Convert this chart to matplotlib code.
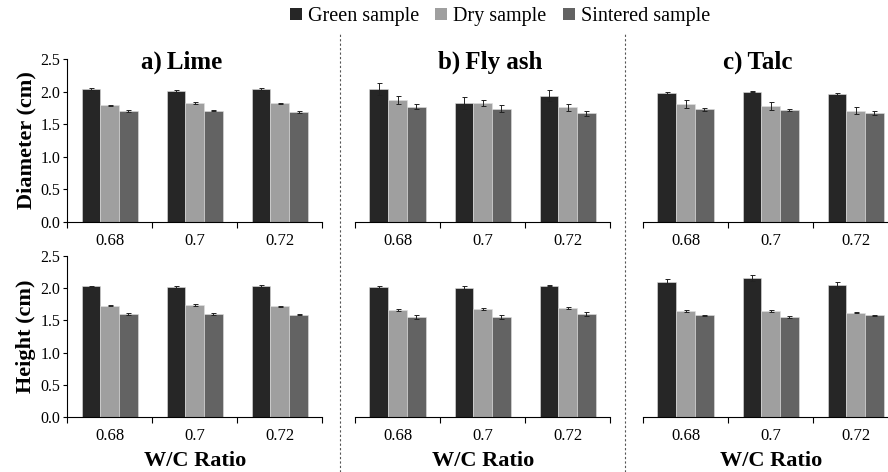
import numpy as np
import matplotlib.pyplot as plt
from matplotlib.lines import Line2D
from matplotlib.patches import Patch

plt.rcParams['font.family'] = ['Liberation Serif', 'DejaVu Serif']

# W/C ratios and sample stages
ratios = ['0.68', '0.7', '0.72']
samples = ['Green sample', 'Dry sample', 'Sintered sample']
colors = ['#262626', '#9f9f9f', '#636363']
titles = ['a)\u2009Lime', 'b)\u2009Fly ash', 'c)\u2009Talc']
title_x = [182 / 888, 490 / 888, 758 / 888]

# diameter (cm), rows = green / dry / sintered, cols = W/C ratio
dia_lime = [[2.04, 2.01, 2.04], [1.79, 1.82, 1.82], [1.70, 1.71, 1.69]]
dia_lime_err = [[0.01, 0.01, 0.01], [0.01, 0.015, 0.01], [0.02, 0.01, 0.02]]
dia_fly = [[2.04, 1.83, 1.94], [1.87, 1.83, 1.76], [1.77, 1.74, 1.67]]
dia_fly_err = [[0.09, 0.09, 0.085], [0.06, 0.045, 0.05], [0.04, 0.05, 0.04]]
dia_talc = [[1.98, 2.00, 1.96], [1.81, 1.78, 1.71], [1.73, 1.72, 1.67]]
dia_talc_err = [[0.015, 0.008, 0.012], [0.055, 0.06, 0.05], [0.02, 0.02, 0.025]]

# height (cm)
hgt_lime = [[2.03, 2.02, 2.03], [1.73, 1.74, 1.72], [1.60, 1.60, 1.59]]
hgt_lime_err = [[0.01, 0.01, 0.015], [0.01, 0.01, 0.01], [0.01, 0.01, 0.01]]
hgt_fly = [[2.02, 2.01, 2.04], [1.66, 1.68, 1.69], [1.55, 1.56, 1.60]]
hgt_fly_err = [[0.02, 0.02, 0.01], [0.02, 0.02, 0.02], [0.03, 0.03, 0.03]]
hgt_talc = [[2.10, 2.16, 2.05], [1.65, 1.64, 1.62], [1.58, 1.56, 1.58]]
hgt_talc_err = [[0.04, 0.04, 0.04], [0.015, 0.015, 0.01], [0.01, 0.015, 0.01]]

top_data = [(dia_lime, dia_lime_err), (dia_fly, dia_fly_err), (dia_talc, dia_talc_err)]
bot_data = [(hgt_lime, hgt_lime_err), (hgt_fly, hgt_fly_err), (hgt_talc, hgt_talc_err)]

fig = plt.figure(figsize=(8.88, 4.72), dpi=100)

lefts = [0.0755, 0.3998, 0.7241]
w = 0.2875
row_pos = [(0.5297, 0.3453), (0.1165, 0.341)]


def draw(ax, vals, errs, first, bottom_row):
    x = np.arange(len(ratios))
    bw = 0.22
    for i in range(3):
        ax.bar(x + (i - 1) * bw, vals[i], bw, color=colors[i], edgecolor='#e0e0e0',
               linewidth=0.4, yerr=errs[i], capsize=1.8,
               error_kw=dict(elinewidth=0.7, capthick=0.7, ecolor='#222222'))
    ax.set_xlim(-0.5, 2.5)
    ax.set_ylim(0, 2.5)
    ax.set_xticks(np.arange(-0.5, 3.0, 1.0))
    ax.set_xticklabels([])
    ax.set_xticks(x, minor=True)
    ax.set_xticklabels(ratios, minor=True, fontsize=12)
    ax.tick_params(axis='x', which='minor', length=0, pad=8)
    ax.tick_params(axis='x', which='major', length=4, direction='out', width=0.8)
    for s in ['top', 'right']:
        ax.spines[s].set_visible(False)
    ax.spines['bottom'].set_linewidth(0.8)
    if first:
        ax.set_yticks(np.arange(0, 2.51, 0.5))
        ax.set_yticklabels(['%.1f' % v for v in np.arange(0, 2.51, 0.5)], fontsize=11.5)
        ax.tick_params(axis='y', length=3, width=0.8, pad=2)
        ax.spines['left'].set_linewidth(0.8)
    else:
        ax.spines['left'].set_visible(False)
        ax.set_yticks([])
    if bottom_row:
        ax.set_xlabel('W/C Ratio', fontsize=16, fontweight='bold', labelpad=5)


for k in range(3):
    ax = fig.add_axes([lefts[k], row_pos[0][0], w, row_pos[0][1]])
    draw(ax, top_data[k][0], top_data[k][1], k == 0, False)
    fig.text(title_x[k], 1 - 62 / 472, titles[k], ha='center', va='center',
             fontsize=18, fontweight='bold')
    if k == 0:
        ax.set_ylabel('Diameter (cm)', fontsize=16, fontweight='bold', labelpad=3)

    ax = fig.add_axes([lefts[k], row_pos[1][0], w, row_pos[1][1]])
    draw(ax, bot_data[k][0], bot_data[k][1], k == 0, True)
    if k == 0:
        ax.set_ylabel('Height (cm)', fontsize=16, fontweight='bold', labelpad=3)

# dashed separators between panels
for xs in [340 / 888, 625 / 888]:
    fig.add_artist(Line2D([xs, xs], [0, 0.93], transform=fig.transFigure,
                          color='#555555', linewidth=0.8, linestyle=(0, (2, 2))))

handles = [Patch(facecolor=c) for c in colors]
fig.legend(handles, samples, loc='center', bbox_to_anchor=(500 / 888, 0.965), ncol=3,
           frameon=False, fontsize=14.5, handlelength=0.6, handleheight=0.6,
           handletextpad=0.3, columnspacing=0.8, borderpad=0)

fig.savefig('out.png', dpi=100)
